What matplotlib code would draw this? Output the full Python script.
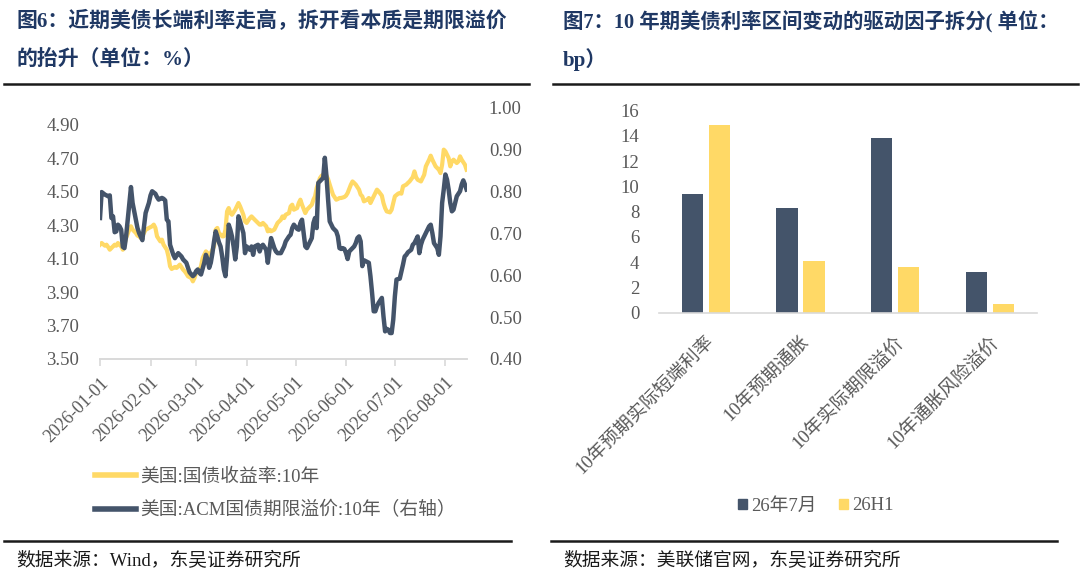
import numpy as np
import pandas as pd
import matplotlib
matplotlib.use("Agg")
import matplotlib.pyplot as plt
from matplotlib.lines import Line2D
from matplotlib.patches import Patch

plt.rcParams['font.family'] = ['Liberation Serif', 'Noto Sans CJK SC', 'DejaVu Sans']

# ---------------- data: left panel ----------------
base_date = "2026-01-01"
ust_days = [0,1,3,4,5,6,8,9,10,11,13,14,15,16,18,19,20,22,23,24,25,27,28,29,30,32,33,34,35,37,
            38,39,41,42,43,44,46,47,48,49,51,52,53,54,56,57,58,59,61,62,63,65,66,67,68,70,71,72,73,75,
            76,77,78,79,80,81,83,84,85,86,88,89,90,92,93,94,95,97,98,99,100,102,103,104,105,107,108,109,111,112,
            113,114,116,117,118,119,121,122,123,124,126,127,128,130,131,132,133,135,136,137,138,139,140,141,142,143,145,146,147,148,
            150,151,152,154,155,156,157,159,160,161,162,164,165,166,168,169,170,171,173,174,175,176,178,179,180,181,183,184,185,186,
            188,189,190,192,193,194,195,197,198,199,200,202,203,204,205,206,208,209,210,211,212,214,215,216,217,219,220,221,222,224,225]
ust_10y = [4.183,4.193,4.177,4.183,4.169,4.153,4.173,4.183,4.177,4.193,4.173,4.153,4.183,4.223,4.273,4.293,4.273,4.253,4.237,4.233,
           4.223,4.253,4.273,4.277,4.283,4.293,4.303,4.283,4.233,4.203,4.213,4.183,4.153,4.113,4.054,4.038,4.050,4.044,4.054,4.064,
           4.034,4.024,4.010,3.994,3.984,3.964,3.984,4.014,4.034,4.054,4.103,4.143,4.133,4.113,4.133,4.173,4.273,4.283,4.253,4.233,
           4.233,4.273,4.382,4.402,4.372,4.362,4.392,4.412,4.432,4.412,4.362,4.322,4.313,4.342,4.352,4.342,4.332,4.313,4.303,4.303,
           4.313,4.293,4.263,4.273,4.263,4.273,4.293,4.313,4.332,4.352,4.342,4.362,4.372,4.412,4.422,4.392,4.402,4.432,4.452,4.422,
           4.372,4.392,4.402,4.422,4.452,4.472,4.522,4.581,4.595,4.601,4.611,4.595,4.575,4.542,4.512,4.482,4.452,4.456,4.462,4.462,
           4.468,4.476,4.492,4.542,4.561,4.552,4.542,4.512,4.482,4.472,4.442,4.452,4.462,4.432,4.472,4.492,4.512,4.502,4.476,4.432,
           4.402,4.382,4.376,4.392,4.432,4.472,4.488,4.492,4.488,4.532,4.542,4.552,4.561,4.587,4.621,4.587,4.571,4.561,4.581,4.601,
           4.651,4.691,4.715,4.691,4.671,4.651,4.631,4.611,4.661,4.751,4.741,4.701,4.651,4.681,4.691,4.671,4.681,4.711,4.691,4.661,4.631]

acm_days = [0,1,3,5,6,7,8,9,10,11,12,13,14,15,16,17,18,19,20,22,23,24,26,27,28,30,31,32,34,35,
            36,38,39,40,41,42,43,44,45,46,48,49,50,51,53,54,55,57,58,59,60,61,62,64,65,66,67,68,69,70,
            71,72,73,74,75,76,77,78,79,80,81,82,83,84,85,86,88,89,90,92,93,94,95,97,98,99,100,102,103,104,
            105,107,108,109,111,112,113,114,116,117,118,119,121,122,123,124,125,126,127,128,129,130,131,132,133,134,135,136,137,138,
            139,140,141,142,143,145,146,147,148,149,150,151,152,153,154,156,157,158,159,160,161,162,163,165,166,167,168,169,170,171,
            173,174,175,176,177,178,179,180,181,182,183,184,186,187,188,189,191,192,193,195,196,197,198,200,201,202,203,204,205,207,
            208,209,210,211,212,213,214,215,216,217,218,219,221,222,223,224,225]
acm_tp = [0.737,0.799,0.793,0.789,0.791,0.737,0.741,0.703,0.705,0.721,0.717,0.709,0.668,0.665,0.693,0.733,0.773,0.811,0.773,0.733,
          0.713,0.701,0.684,0.717,0.749,0.773,0.791,0.801,0.795,0.787,0.781,0.785,0.783,0.779,0.733,0.729,0.673,0.661,0.649,0.641,
          0.653,0.649,0.645,0.638,0.630,0.618,0.607,0.598,0.602,0.610,0.614,0.606,0.602,0.630,0.649,0.638,0.618,0.630,0.653,0.681,
          0.705,0.693,0.679,0.669,0.645,0.614,0.598,0.645,0.721,0.709,0.693,0.669,0.638,0.669,0.741,0.729,0.701,0.653,0.669,0.661,
          0.669,0.649,0.669,0.673,0.657,0.669,0.673,0.661,0.630,0.661,0.689,0.665,0.657,0.653,0.653,0.661,0.669,0.681,0.693,0.697,
          0.713,0.721,0.711,0.709,0.725,0.733,0.701,0.669,0.665,0.673,0.681,0.689,0.725,0.737,0.713,0.821,0.825,0.829,0.833,0.881,
          0.837,0.781,0.729,0.721,0.713,0.705,0.693,0.665,0.663,0.665,0.663,0.653,0.639,0.657,0.661,0.669,0.677,0.689,0.693,0.681,
          0.622,0.636,0.634,0.630,0.598,0.558,0.514,0.514,0.526,0.534,0.546,0.502,0.466,0.472,0.470,0.462,0.462,0.494,0.550,0.590,
          0.591,0.592,0.626,0.645,0.649,0.655,0.661,0.673,0.677,0.693,0.653,0.673,0.685,0.701,0.709,0.717,0.721,0.701,0.677,0.665,
          0.649,0.693,0.773,0.805,0.841,0.829,0.805,0.773,0.753,0.757,0.773,0.789,0.801,0.817,0.827,0.817,0.805]

left_labels = ["美国:国债收益率:10年", "美国:ACM国债期限溢价:10年（右轴）"]
month_ticks = ["2026-01-01", "2026-02-01", "2026-03-01", "2026-04-01",
               "2026-05-01", "2026-06-01", "2026-07-01", "2026-08-01"]
left_yticks = [3.50, 3.70, 3.90, 4.10, 4.30, 4.50, 4.70, 4.90]
right_yticks = [0.40, 0.50, 0.60, 0.70, 0.80, 0.90, 1.00]

# ---------------- data: right panel ----------------
factors = ["10年预期实际短端利率", "10年预期通胀", "10年实际期限溢价", "10年通胀风险溢价"]
jul26 = [9.4, 8.3, 13.8, 3.2]
h1_26 = [14.9, 4.1, 3.6, 0.7]
bar_series = ["26年7月", "26H1"]
bar_yticks = [0, 2, 4, 6, 8, 10, 12, 14, 16]

title_left = ["图6：近期美债长端利率走高，拆开看本质是期限溢价", "的抬升（单位：%）"]
title_right = ["图7：10 年期美债利率区间变动的驱动因子拆分( 单位：", "bp）"]
source_left = "数据来源：Wind，东吴证券研究所"
source_right = "数据来源：美联储官网，东吴证券研究所"

# ---------------- style ----------------
NAVY = "#44546A"
GOLD = "#FFD966"
TICK_C = "#595959"
AX_C = "#D9D9D9"
TITLE_C = "#1F3864"
FS = 13.5

fig = plt.figure(figsize=(10.8, 5.84), dpi=100)

# ---------------- left panel ----------------
ax1 = fig.add_axes([0.0926, 0.3853, 0.3394, 0.4298])
ax2 = ax1.twinx()
t0 = pd.Timestamp(base_date)
ust_dates = t0 + pd.to_timedelta(ust_days, unit="D")
acm_dates = t0 + pd.to_timedelta(acm_days, unit="D")

l1, = ax1.plot(ust_dates, ust_10y, color=GOLD, lw=3.0, solid_joinstyle="round")
l2, = ax2.plot(acm_dates, acm_tp, color=NAVY, lw=3.2, solid_joinstyle="round")

ax1.set_ylim(3.5, 5.0)
ax2.set_ylim(0.4, 1.0)
ax1.set_xlim(t0, t0 + pd.Timedelta(days=225))
ax1.set_yticks(left_yticks)
ax1.set_yticklabels([f"{v:.2f}" for v in left_yticks])
ax2.set_yticks(right_yticks)
ax2.set_yticklabels([f"{v:.2f}" for v in right_yticks])
mt = pd.to_datetime(month_ticks)
ax1.set_xticks(mt)
ax1.set_xticklabels(month_ticks, rotation=45, ha="right", va="top",
                    rotation_mode="anchor", fontsize=13, color=TICK_C)
for a in (ax1, ax2):
    for s in ("top", "left", "right"):
        a.spines[s].set_visible(False)
    a.spines["bottom"].set_color(AX_C)
    a.spines["bottom"].set_linewidth(1.2)
ax1.tick_params(axis="y", length=0, labelsize=FS, labelcolor=TICK_C, pad=15)
ax2.tick_params(axis="y", length=0, labelsize=FS, labelcolor=TICK_C, pad=16)
ax1.tick_params(axis="x", length=5, width=1.2, color=AX_C, direction="out", pad=6)

leg = ax1.legend([l1, l2], left_labels, loc="upper left",
                 bbox_to_anchor=(0.088, 1 - 468 / 584), bbox_transform=fig.transFigure,
                 frameon=False, fontsize=FS, handlelength=2.2, handletextpad=0.2,
                 labelspacing=0.85, borderaxespad=0, borderpad=0)
for h in leg.get_lines():
    h.set_linewidth(4)
for t in leg.get_texts():
    t.set_color(TICK_C)

# ---------------- right panel ----------------
ax3 = fig.add_axes([0.6099, 0.4646, 0.3503, 0.3459])
x = np.arange(len(factors))
w = 0.225
off = 0.142
ax3.bar(x - off, jul26, width=w, color=NAVY, label=bar_series[0])
ax3.bar(x + off, h1_26, width=w, color=GOLD, label=bar_series[1])
ax3.set_xlim(-0.5, len(factors) - 0.5)
ax3.set_ylim(0, 16)
ax3.set_yticks(bar_yticks)
ax3.set_yticklabels([str(v) for v in bar_yticks])
ax3.set_xticks(x)
ax3.set_xticklabels(factors, rotation=45, ha="right", va="top",
                    rotation_mode="anchor", fontsize=FS, color=TICK_C)
for s in ("top", "left", "right"):
    ax3.spines[s].set_visible(False)
ax3.spines["bottom"].set_color(AX_C)
ax3.spines["bottom"].set_linewidth(1.2)
ax3.tick_params(axis="y", length=0, labelsize=FS, labelcolor=TICK_C, pad=14)
ax3.tick_params(axis="x", length=0, pad=15)

handles = [Patch(color=NAVY), Patch(color=GOLD)]
leg2 = ax3.legend(handles, bar_series, loc="center left",
                  bbox_to_anchor=(0.683, 1 - 506 / 584), bbox_transform=fig.transFigure,
                  frameon=False, fontsize=FS, ncol=2, handlelength=0.5, handleheight=0.5,
                  handletextpad=0.2, columnspacing=1.2, borderaxespad=0, borderpad=0)
for t in leg2.get_texts():
    t.set_color(TICK_C)

# ---------------- titles, rules, sources ----------------
def fy(py):
    return 1 - py / 584.0

TFS = 15
fig.text(16 / 1080, fy(22), title_left[0], fontsize=TFS, fontweight="bold", color=TITLE_C, va="center", ha="left")
fig.text(16 / 1080, fy(60), title_left[1], fontsize=TFS, fontweight="bold", color=TITLE_C, va="center", ha="left")
fig.text(563 / 1080, fy(22), title_right[0], fontsize=TFS - 0.3, fontweight="bold", color=TITLE_C, va="center", ha="left")
fig.text(563 / 1080, fy(60), title_right[1], fontsize=TFS, fontweight="bold", color=TITLE_C, va="center", ha="left")

for (xa, xb, yy) in [(4, 529, 84), (553, 1078, 84), (4, 511, 541), (551, 1057, 541)]:
    fig.add_artist(Line2D([xa / 1080, xb / 1080], [fy(yy), fy(yy)], transform=fig.transFigure,
                          color="#1a1a1a", lw=1.8))

fig.text(16 / 1080, fy(561), source_left, fontsize=FS, color="#1a1a1a", va="center", ha="left")
fig.text(563 / 1080, fy(561), source_right, fontsize=FS, color="#1a1a1a", va="center", ha="left")

fig.savefig("out.png", dpi=100)
